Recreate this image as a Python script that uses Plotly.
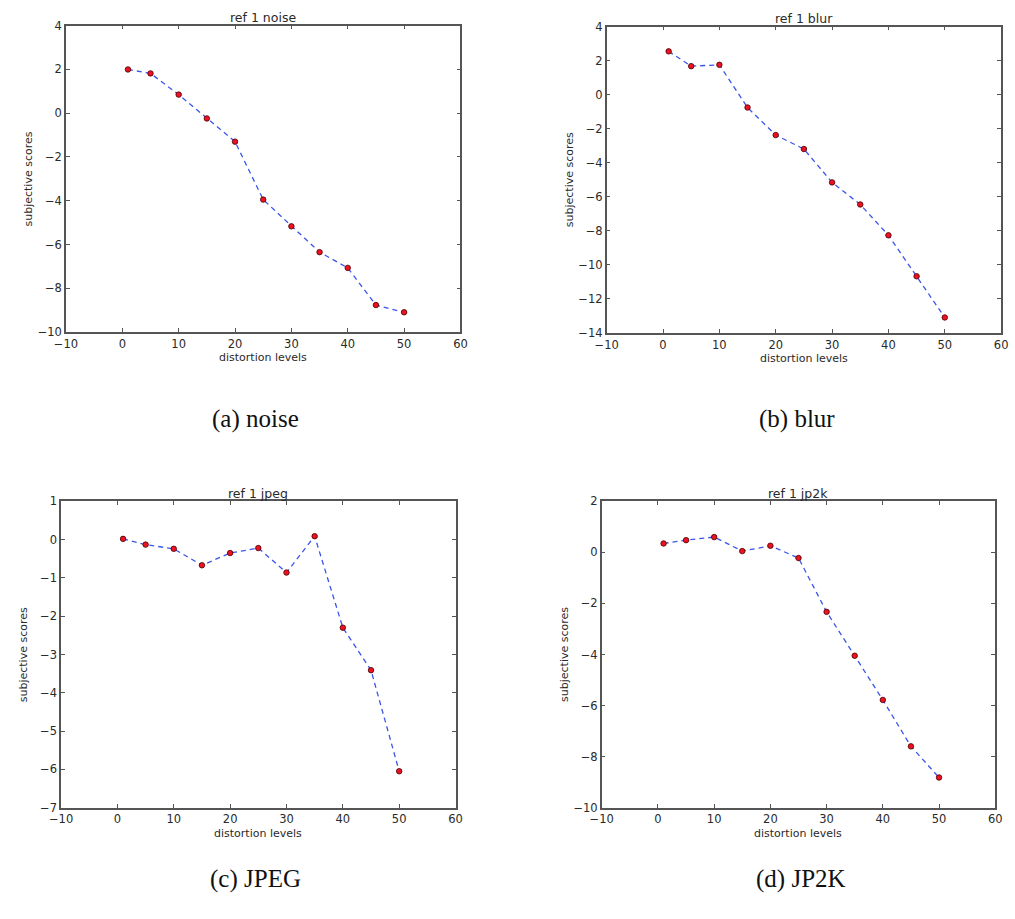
import plotly.graph_objects as go

levels = [1, 5, 10, 15, 20, 25, 30, 35, 40, 45, 50]
noise_scores = [2.0, 1.82, 0.85, -0.24, -1.3, -3.95, -5.17, -6.35, -7.07, -8.77, -9.1]
blur_scores = [2.55, 1.68, 1.76, -0.75, -2.37, -3.19, -5.15, -6.45, -8.26, -10.67, -13.09]
jpeg_scores = [0.02, -0.13, -0.24, -0.67, -0.35, -0.22, -0.86, 0.09, -2.3, -3.41, -6.05]
jp2k_scores = [0.35, 0.48, 0.6, 0.05, 0.26, -0.22, -2.33, -4.05, -5.78, -7.6, -8.82]

titles = ["ref 1 noise", "ref 1 blur", "ref 1 jpeg", "ref 1 jp2k"]
captions = ["(a) noise", "(b) blur", "(c) JPEG", "(d) JP2K"]
y_ranges = [(-10, 4), (-14, 4), (-7, 1), (-10, 2)]
y_dticks = [2, 2, 1, 2]
x_range = (-10, 60)

W, H = 1015, 919
# plot-area pixel boxes (left, top, right, bottom)
boxes = [(55, 19, 457, 330), (606, 20, 1008, 331), (50, 502, 452, 813), (601, 502, 1002, 813)]
caption_pos = [(248, 418), (800, 418), (248, 885), (804, 885)]

series = [noise_scores, blur_scores, jpeg_scores, jp2k_scores]

fig = go.Figure()
annotations = []
font_fam = "DejaVu Sans"
txt_col = "#2a2a2a"
for i, (ys, box) in enumerate(zip(series, boxes)):
    l, t, r, b = box
    xa = "x" if i == 0 else f"x{i+1}"
    ya = "y" if i == 0 else f"y{i+1}"
    fig.add_trace(go.Scatter(
        x=levels, y=ys, xaxis=xa, yaxis=ya, mode="lines+markers",
        line=dict(color="#3a55e8", width=1.3, dash="5px,4px"),
        marker=dict(color="#ee1122", size=5.5, line=dict(color="#400", width=0.8)),
        showlegend=False))
    common = dict(showline=True, linecolor="#555", linewidth=1.5, mirror="ticks",
                  ticks="inside", ticklen=4, tickcolor="#555", showgrid=False,
                  zeroline=False, tickfont=dict(family=font_fam, size=11.5, color=txt_col))
    xkey = "xaxis" if i == 0 else f"xaxis{i+1}"
    ykey = "yaxis" if i == 0 else f"yaxis{i+1}"
    fig.update_layout(**{
        xkey: dict(domain=[l / W, r / W], anchor=ya, range=list(x_range), dtick=10,
                   tick0=-10, **common),
        ykey: dict(domain=[1 - b / H, 1 - t / H], anchor=xa, range=list(y_ranges[i]),
                   dtick=y_dticks[i], **common),
    })
    cx = (l + r) / 2
    cy = (t + b) / 2
    annotations.append(dict(x=cx / W, y=1 - (t - 8) / H, xref="paper", yref="paper",
                            text=titles[i], showarrow=False, xanchor="center", yanchor="middle",
                            font=dict(family=font_fam, size=12.5, color=txt_col)))
    annotations.append(dict(x=cx / W, y=1 - (b + 26) / H, xref="paper", yref="paper",
                            text="distortion levels", showarrow=False, xanchor="center",
                            yanchor="middle", font=dict(family=font_fam, size=11, color=txt_col)))
    annotations.append(dict(x=(l - 38) / W, y=1 - cy / H, xref="paper", yref="paper",
                            text="subjective scores", showarrow=False, textangle=-90,
                            xanchor="center", yanchor="middle",
                            font=dict(family=font_fam, size=11, color=txt_col)))
    px, py = caption_pos[i]
    annotations.append(dict(x=px / W, y=1 - py / H, xref="paper", yref="paper",
                            text=captions[i], showarrow=False, xanchor="center",
                            yanchor="middle",
                            font=dict(family="Liberation Serif", size=25, color="#111")))

fig.update_layout(width=W, height=H, margin=dict(l=0, r=0, t=0, b=0),
                  paper_bgcolor="white", plot_bgcolor="white", annotations=annotations)
fig.write_html("out.html")
